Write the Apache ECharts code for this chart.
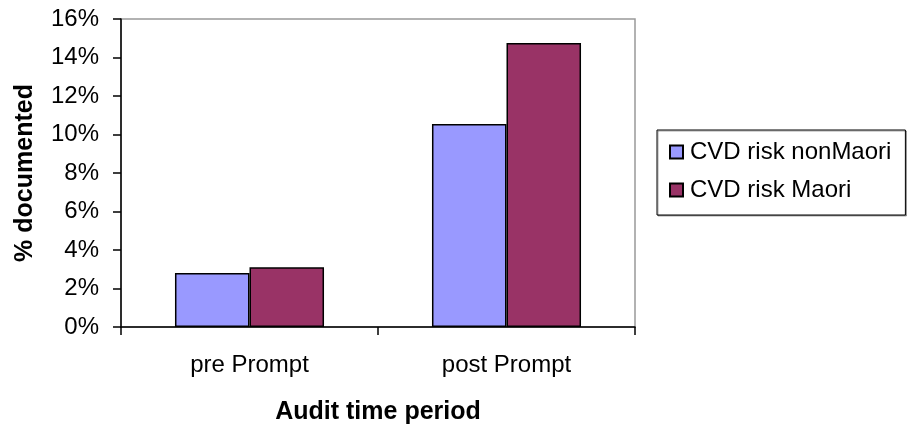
<!DOCTYPE html>
<html>
<head>
<meta charset="utf-8">
<script src="https://cdn.jsdelivr.net/npm/echarts@6/dist/echarts.min.js"></script>
<style>
  html, body { margin: 0; padding: 0; background: #fff; }
  #chart { width: 907px; height: 430px; }
</style>
</head>
<body>
<div id="chart"></div>
<script>
// Share of records with CVD risk documented, before and after the prompt
const categories = ['pre Prompt', 'post Prompt'];
const seriesNames = ['CVD risk nonMaori', 'CVD risk Maori'];
const nonMaori = [2.8, 10.55];
const maori = [3.1, 14.75];
const yTicks = { min: 0, max: 16, interval: 2 };

const FONT = '"Liberation Sans", Arial, sans-serif';

const chart = echarts.init(document.getElementById('chart'));
chart.setOption({
  animation: false,
  backgroundColor: '#fff',
  textStyle: { fontFamily: FONT, color: '#000' },
  grid: {
    left: 121, right: 272, top: 19, bottom: 103,
    show: true, borderColor: '#999', borderWidth: 1.5, backgroundColor: 'transparent'
  },
  legend: {
    orient: 'vertical',
    left: 657, top: 130,
    padding: [10, 14, 13, 12],
    itemGap: 14,
    itemWidth: 13, itemHeight: 13,
    icon: 'rect',
    borderColor: '#000', borderWidth: 1,
    shadowColor: 'rgba(0,0,0,0.35)', shadowOffsetX: 1, shadowOffsetY: 1,
    backgroundColor: '#fff',
    textStyle: { fontFamily: FONT, fontSize: 24, color: '#000', padding: [0, 0, 0, 2] },
    data: seriesNames
  },
  xAxis: {
    type: 'category',
    data: categories,
    name: 'Audit time period',
    nameLocation: 'middle',
    nameGap: 73,
    nameTextStyle: { fontFamily: FONT, fontSize: 25, fontWeight: 'bold', color: '#000' },
    axisLine: { lineStyle: { color: '#000', width: 1.5 } },
    axisTick: { show: true, length: 8, lineStyle: { color: '#000', width: 1.5 } },
    axisLabel: { margin: 26, fontFamily: FONT, fontSize: 24, color: '#000' }
  },
  yAxis: {
    type: 'value',
    min: yTicks.min, max: yTicks.max, interval: yTicks.interval,
    name: '% documented',
    nameLocation: 'middle',
    nameGap: 83,
    nameTextStyle: { fontFamily: FONT, fontSize: 25, fontWeight: 'bold', color: '#000' },
    axisLine: { show: true, lineStyle: { color: '#000', width: 1.5 } },
    axisTick: { show: true, length: 8, lineStyle: { color: '#000', width: 1.5 } },
    splitLine: { show: false },
    axisLabel: { margin: 22, fontFamily: FONT, fontSize: 24, color: '#000', formatter: '{value}%' }
  },
  series: [
    {
      name: seriesNames[0], type: 'bar', data: nonMaori,
      barGap: '0%', barCategoryGap: '42%',
      itemStyle: { color: '#9999FF', borderColor: '#000', borderWidth: 1.5 }
    },
    {
      name: seriesNames[1], type: 'bar', data: maori,
      itemStyle: { color: '#993366', borderColor: '#000', borderWidth: 1.5 }
    }
  ]
});
</script>
</body>
</html>
